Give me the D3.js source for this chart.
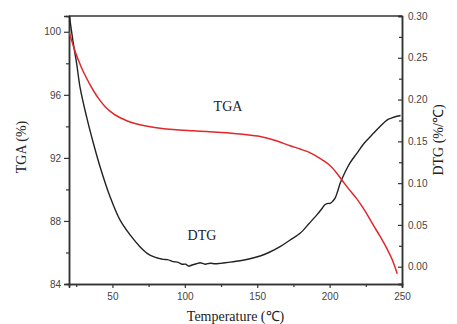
<!DOCTYPE html>
<html>
<head>
<meta charset="utf-8">
<script src="https://cdn.jsdelivr.net/npm/d3@7/dist/d3.min.js"></script>
<style>
  body { margin: 0; background: #fff; }
  .tick text { font-family: Arial, "Liberation Sans", sans-serif; font-size: 10px; fill: #444; }
  .ttl { font-family: "Times New Roman", "Liberation Serif", serif; fill: #222; }
</style>
</head>
<body>
<svg width="457" height="324"></svg>
<script>
// TGA curve, left axis (%)
const tgaTemp = [20, 23, 25, 27.6, 30, 34.5, 38, 41.4, 45, 48.3, 52, 55, 59.9, 65, 69, 76, 82.9, 92, 105.9, 115, 128.9, 140, 152, 162, 172.7, 180, 186.6, 191, 195.7, 201, 208.5, 213, 218.8, 224, 230.3, 235, 239.6, 243, 246.7];
const tgaVal  = [100, 99.1, 98.55, 97.95, 97.45, 96.65, 96.1, 95.65, 95.25, 94.97, 94.72, 94.56, 94.36, 94.2, 94.1, 93.97, 93.88, 93.8, 93.72, 93.67, 93.6, 93.5, 93.36, 93.12, 92.77, 92.55, 92.32, 92.1, 91.83, 91.45, 90.6, 90.05, 89.4, 88.7, 87.72, 87.0, 86.24, 85.6, 84.65];

// DTG curve, right axis (%/℃)
const dtgTemp = [20.3, 23, 25.3, 27.6, 32.2, 36.8, 41.4, 48.3, 55.2, 62.2, 69, 74, 78.3, 82, 85.2, 88, 92.1, 95, 98, 100.5, 102.4, 105, 108, 110.5, 114, 117.4, 121, 124.4, 130, 138.2, 145, 152, 158, 165.8, 172.7, 179.6, 186, 191.2, 194.5, 196.9, 199, 200.4, 202, 203.8, 205.5, 207.3, 210.8, 214, 218.8, 224, 230.3, 235, 239.6, 243, 246.5, 249];
const dtgVal  = [0.30, 0.267, 0.243, 0.215, 0.179, 0.148, 0.120, 0.084, 0.056, 0.038, 0.024, 0.016, 0.012, 0.010, 0.0088, 0.0085, 0.006, 0.0055, 0.003, 0.003, 0.0008, 0.002, 0.0035, 0.0048, 0.003, 0.0042, 0.0035, 0.004, 0.0052, 0.0072, 0.0095, 0.0128, 0.017, 0.024, 0.032, 0.040, 0.052, 0.062, 0.069, 0.0745, 0.0758, 0.0758, 0.078, 0.082, 0.090, 0.0998, 0.1136, 0.124, 0.1356, 0.148, 0.1596, 0.168, 0.1755, 0.178, 0.180, 0.181];

const xTicks = [50, 100, 150, 200, 250];
const xMinor = [25, 75, 125, 175, 225];
const yLeftTicks = [84, 88, 92, 96, 100];
const yLeftMinor = [86, 90, 94, 98];
const yRightTicks = [0, 0.05, 0.10, 0.15, 0.20, 0.25, 0.30];
const yRightMinor = [0.025, 0.075, 0.125, 0.175, 0.225, 0.275];

const svg = d3.select("svg");
const m = {left: 69, right: 402, top: 16, bottom: 284};

const x = d3.scaleLinear().domain([20, 250]).range([m.left, m.right]);
const yL = d3.scaleLinear().domain([84, 101]).range([m.bottom, m.top]);
const yR = d3.scaleLinear().domain([-0.0207, 0.30]).range([m.bottom, m.top]);

const axisColor = "#333";

function styleAxis(g) {
  g.select(".domain").attr("stroke", axisColor).attr("stroke-width", 1.5);
  g.selectAll(".tick line").attr("stroke", axisColor).attr("stroke-width", 1.2);
}

// minor ticks first
svg.append("g").attr("transform", `translate(0,${m.bottom})`)
  .call(d3.axisBottom(x).tickValues(xMinor).tickSize(3).tickFormat(""))
  .call(styleAxis);
svg.append("g").attr("transform", `translate(${m.left},0)`)
  .call(d3.axisLeft(yL).tickValues(yLeftMinor).tickSize(3).tickFormat(""))
  .call(styleAxis);
svg.append("g").attr("transform", `translate(${m.right},0)`)
  .call(d3.axisLeft(yR).tickValues(yRightMinor).tickSize(3).tickFormat(""))
  .call(styleAxis);

svg.append("g").attr("transform", `translate(0,${m.bottom})`)
  .call(d3.axisBottom(x).tickValues(xTicks).tickSize(4).tickPadding(5).tickFormat(d3.format("d")))
  .call(styleAxis);
svg.append("g").attr("transform", `translate(${m.left},0)`)
  .call(d3.axisLeft(yL).tickValues(yLeftTicks).tickSize(5).tickPadding(3).tickFormat(d3.format("d")))
  .call(styleAxis);
const rAx = svg.append("g").attr("transform", `translate(${m.right},0)`)
  .call(d3.axisLeft(yR).tickValues(yRightTicks).tickSize(4).tickFormat(d3.format(".2f")))
  .call(styleAxis);
rAx.selectAll(".tick text").attr("x", 6).attr("text-anchor", "start");

// top frame
svg.append("line")
  .attr("x1", m.left).attr("x2", m.right)
  .attr("y1", m.top).attr("y2", m.top)
  .attr("stroke", axisColor).attr("stroke-width", 1.5);

svg.append("clipPath").attr("id", "clip")
  .append("rect").attr("x", m.left).attr("y", m.top)
  .attr("width", m.right - m.left).attr("height", m.bottom - m.top);

const plot = svg.append("g").attr("clip-path", "url(#clip)");

plot.append("path")
  .datum(dtgTemp.map((t, i) => [t, dtgVal[i]]))
  .attr("fill", "none").attr("stroke", "#222").attr("stroke-width", 1.4)
  .attr("d", d3.line().x(d => x(d[0])).y(d => yR(d[1])).curve(d3.curveCatmullRom));

plot.append("path")
  .datum(tgaTemp.map((t, i) => [t, tgaVal[i]]))
  .attr("fill", "none").attr("stroke", "#e3262b").attr("stroke-width", 1.5)
  .attr("d", d3.line().x(d => x(d[0])).y(d => yL(d[1])).curve(d3.curveCatmullRom));

// labels
svg.append("text").attr("class", "ttl")
  .attr("x", 228).attr("y", 111).attr("text-anchor", "middle")
  .attr("font-size", 14).text("TGA");
svg.append("text").attr("class", "ttl")
  .attr("x", 202).attr("y", 240).attr("text-anchor", "middle")
  .attr("font-size", 14).text("DTG");

svg.append("text").attr("class", "ttl")
  .attr("x", (m.left + m.right) / 2).attr("y", 321).attr("text-anchor", "middle")
  .attr("font-size", 14).text("Temperature (℃)");
svg.append("text").attr("class", "ttl")
  .attr("transform", "translate(26,147) rotate(-90)").attr("text-anchor", "middle")
  .attr("font-size", 14).text("TGA (%)");
svg.append("text").attr("class", "ttl")
  .attr("transform", "translate(443,140) rotate(-90)").attr("text-anchor", "middle")
  .attr("font-size", 14).text("DTG (%/℃)");
</script>
</body>
</html>
